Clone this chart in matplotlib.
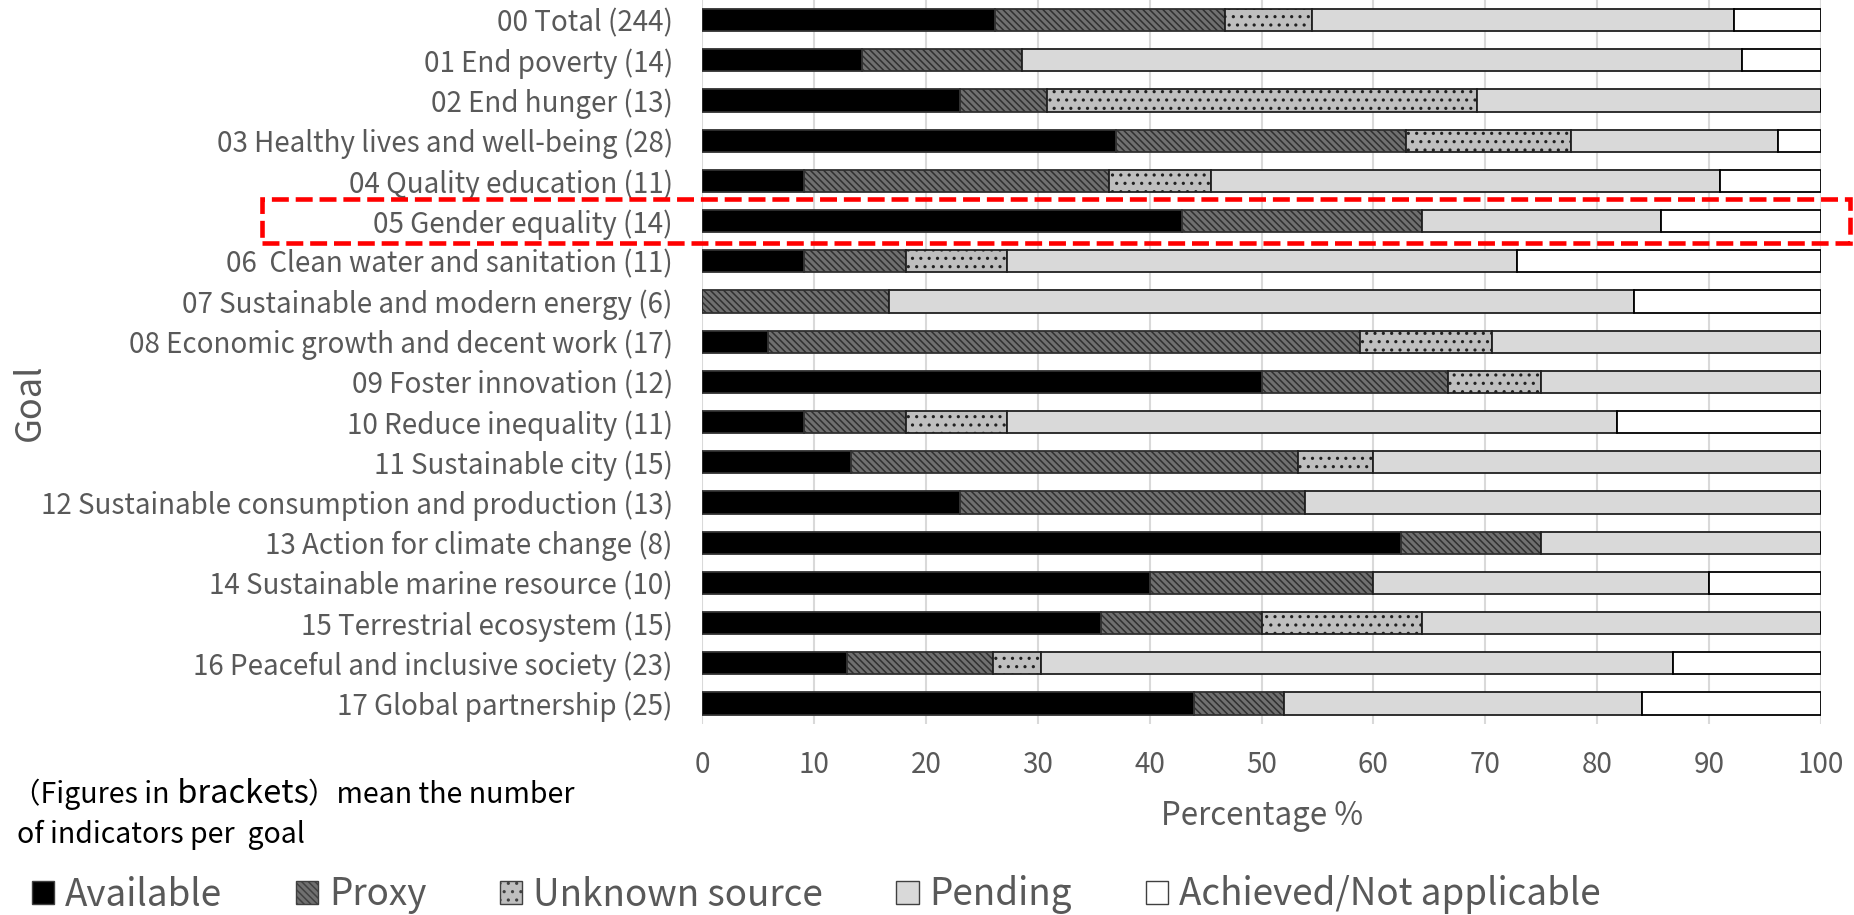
import matplotlib
matplotlib.use("Agg")
import matplotlib.pyplot as plt
from matplotlib.patches import Patch, Rectangle
import matplotlib.transforms as mtransforms

plt.rcParams['font.family'] = ['Noto Sans CJK JP', 'DejaVu Sans']
plt.rcParams['hatch.linewidth'] = 1.1

categories = ["00 Total (244)", "01 End poverty (14)", "02 End hunger (13)",
              "03 Healthy lives and well-being (28)", "04 Quality education (11)",
              "05 Gender equality (14)", "06  Clean water and sanitation (11)",
              "07 Sustainable and modern energy (6)", "08 Economic growth and decent work (17)",
              "09 Foster innovation (12)", "10 Reduce inequality (11)", "11 Sustainable city (15)",
              "12 Sustainable consumption and production (13)", "13 Action for climate change (8)",
              "14 Sustainable marine resource (10)", "15 Terrestrial ecosystem (15)",
              "16 Peaceful and inclusive society (23)", "17 Global partnership (25)"]

available = [26.2, 14.3, 23.1, 37.0, 9.1, 42.9, 9.1, 0.0, 5.9, 50.0, 9.1, 13.3, 23.1, 62.5, 40.0, 35.7, 13.0, 44.0]
proxy     = [20.5, 14.3, 7.7, 25.9, 27.3, 21.4, 9.1, 16.7, 52.9, 16.7, 9.1, 40.0, 30.8, 12.5, 20.0, 14.3, 13.0, 8.0]
unknown   = [7.8, 0.0, 38.5, 14.8, 9.1, 0.0, 9.1, 0.0, 11.8, 8.3, 9.1, 6.7, 0.0, 0.0, 0.0, 14.3, 4.3, 0.0]
pending   = [37.7, 64.3, 30.7, 18.5, 45.5, 21.4, 45.5, 66.6, 29.4, 25.0, 54.5, 40.0, 46.1, 25.0, 30.0, 35.7, 56.5, 32.0]
achieved  = [7.8, 7.1, 0.0, 3.8, 9.0, 14.3, 27.2, 16.7, 0.0, 0.0, 18.2, 0.0, 0.0, 0.0, 10.0, 0.0, 13.2, 16.0]

series_names = ["Available", "Proxy", "Unknown source", "Pending", "Achieved/Not applicable"]
series_vals = [available, proxy, unknown, pending, achieved]
faces = ["#000000", "#707070", "#bfbfbf", "#d9d9d9", "#ffffff"]
hatches = [None, "\\\\\\\\\\", "..", None, None]
edges = ["#303030", "#303030", "#202020", "#202020", "#000000"]

TXT = "#595959"

fig = plt.figure(figsize=(18.54, 9.15), dpi=100)
W, H = 1854, 915
ax = fig.add_axes([702 / W, 1 - 723.6 / H, (1821 - 702) / W, 723.6 / H])

ypos = list(range(len(categories)))
left = [0.0] * len(categories)
for name, vals, fc, ht, ec in zip(series_names, series_vals, faces, hatches, edges):
    ax.barh(ypos, vals, left=left, height=0.55, color=fc, hatch=ht,
            edgecolor=ec, linewidth=1.3, zorder=3)
    left = [l + v for l, v in zip(left, vals)]

ax.set_xlim(0, 100)
ax.set_ylim(len(categories) - 0.5, -0.5)
ax.set_xticks(range(0, 101, 10))
ax.set_yticks(ypos)
ax.set_yticklabels(categories)
ax.tick_params(axis='both', length=0, colors=TXT, labelsize=20)
ax.tick_params(axis='x', pad=19)
ax.tick_params(axis='y', pad=21)
ax.grid(axis='x', color='#d9d9d9', linewidth=1.5, zorder=0)
for s in ax.spines.values():
    s.set_visible(False)

ax.set_xlabel("Percentage %", fontsize=22.5, color=TXT)
ax.xaxis.label.set_va('center')
ax.xaxis.set_label_coords(0.5004, -(816 - 723.6) / 723.6)
ax.set_ylabel("Goal", fontsize=26, color=TXT)
ax.yaxis.label.set_va('center')
ax.yaxis.set_label_coords((30 - 702) / 1119, 1 - 402 / 723.6)

# highlight box around goal 05
trans = mtransforms.blended_transform_factory(fig.transFigure, ax.transData)
rect = Rectangle((262 / W, 5 + 0.54), (1850 - 262) / W, -1.08, transform=trans,
                 fill=False, edgecolor='#ff0000', linewidth=3.3,
                 linestyle=(0, (3.7, 1.5)), clip_on=False, zorder=5)
fig.add_artist(rect)

# note text
t1 = fig.text(12 / W, 1 - 810 / H, "（Figures in", fontsize=20.5, color='#000000', va='bottom', ha='left')
t2 = plt.annotate(" brackets", xy=(1, 0), xycoords=t1, fontsize=23.5, color='#000000',
                  va='bottom', ha='left', annotation_clip=False)
t3 = plt.annotate("）mean the number", xy=(1, 0), xycoords=t2, fontsize=20.5, color='#000000',
                  va='bottom', ha='left', annotation_clip=False)
fig.text(17 / W, 1 - 850 / H, "of indicators per  goal", fontsize=20.5, color='#000000', va='bottom', ha='left')

handles = [Patch(facecolor=fc, hatch=ht, edgecolor='#404040', linewidth=1.0)
           for fc, ht in zip(faces, hatches)]
leg = fig.legend(handles, series_names, loc='center left', bbox_to_anchor=(32 / W, 1 - 895 / H),
                 ncol=5, frameon=False, fontsize=26.5, handlelength=0.6, handleheight=0.6,
                 handletextpad=0.3, columnspacing=2.0, borderpad=0, borderaxespad=0)
for t in leg.get_texts():
    t.set_color(TXT)

fig.savefig("out.png", dpi=100)
